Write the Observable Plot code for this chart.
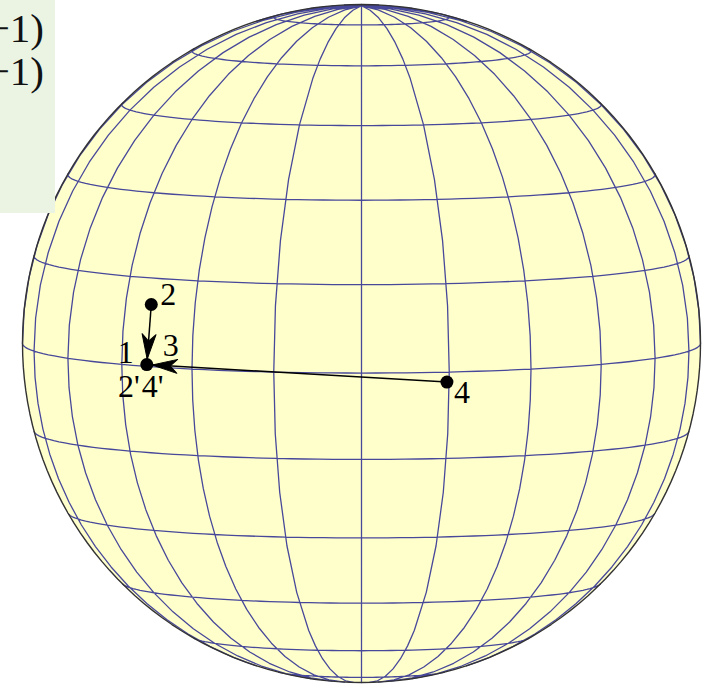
<!DOCTYPE html>
<html>
<head>
<meta charset="utf-8">
<script src="https://cdn.jsdelivr.net/npm/d3@7"></script>
<script src="https://cdn.jsdelivr.net/npm/@observablehq/plot@0.6"></script>
<style>
  body { margin: 0; background: #ffffff; }
  #wrap { position: relative; width: 702px; height: 684px; overflow: hidden; }
  #wrap svg { position: absolute; left: 0; top: 0; }
  #note {
    position: absolute; left: 0; top: 0; width: 55px; height: 213px;
    background: #ebf3e2; overflow: hidden;
    font-family: "Liberation Serif", serif; font-size: 41px; line-height: 1; color: #111;
  }
  #note div { position: absolute; right: 11px; white-space: nowrap; }
</style>
</head>
<body>
<div id="wrap"></div>
<script>
// Points on the sphere, in degrees
const pointNames = ["1", "2", "4"];
const pointLon = [-39.3, -39.1, 14.6];
const pointLat = [0.3, 10.5, -1.7];

// Moves drawn as arrows (from → to)
const arrowFrom = ["2", "4"];
const arrowTo = ["1", "1"];

// Labels and the point each one sits beside
const labelText = ["1", "2", "3", "2'", "4'", "4"];
const labelPoint = ["1", "2", "1", "1", "1", "4"];

// Lines of the note panel
const noteLines = ["−1)", "−1)"];

// Graticule spacing in degrees
const graticuleStep = [15, 15];

const lonOf = (name) => pointLon[pointNames.indexOf(name)];
const latOf = (name) => pointLat[pointNames.indexOf(name)];

// View: orthographic globe, tilted slightly toward the north pole
const projection = d3.geoOrthographic()
  .rotate([0, -5, 0])
  .scale(339)
  .translate([361, 343]);

const graticule = d3.geoGraticule()
  .extentMinor([[-180, -90 + 1e-6], [180, 90 - 1e-6]])
  .stepMinor(graticuleStep)
  .stepMajor([90, 360]);

// Direction of each arrowhead: from the target back toward the origin
const arrows = arrowFrom.map((from, i) => {
  const to = arrowTo[i];
  const a = projection([lonOf(to), latOf(to)]);
  const b = projection([lonOf(from), latOf(from)]);
  const angle = Math.atan2(b[0] - a[0], -(b[1] - a[1])) * 180 / Math.PI;
  return {from, to, angle};
});

// Filled stealth-style arrowhead; tip stops at the edge of the target dot
const dotRadius = 6.5;
const headShape = {
  draw(context) {
    const gap = dotRadius - 1, len = 25, half = 7;
    context.moveTo(0, -gap);
    context.lineTo(half, -gap - len);
    context.lineTo(0, -gap - len * 0.72);
    context.lineTo(-half, -gap - len);
    context.closePath();
  }
};

const labelPlacement = {
  "1":  {dx: -13, dy: -2, textAnchor: "end"},
  "2":  {dx: 9,   dy: 0,  textAnchor: "start"},
  "3":  {dx: 16,  dy: -9, textAnchor: "start"},
  "2'": {dx: -7,  dy: 32, textAnchor: "end"},
  "4'": {dx: -5,  dy: 32, textAnchor: "start"},
  "4":  {dx: 7,   dy: 21, textAnchor: "start"}
};

const labels = labelText.map((text, i) => ({text, at: labelPoint[i]}));
const points = pointNames.map((name) => ({name}));

const textMarks = labels.map((d) =>
  Plot.text([d], {
    x: (d) => lonOf(d.at),
    y: (d) => latOf(d.at),
    text: "text",
    ...labelPlacement[d.text],
    lineAnchor: "bottom",
    fontFamily: "Liberation Serif",
    fontSize: 32,
    fill: "#000"
  })
);

const chart = Plot.plot({
  width: 702,
  height: 684,
  projection,
  marks: [
    Plot.sphere({fill: "#ffffcc", stroke: "none"}),
    Plot.geo(graticule(), {stroke: "#48489a", strokeWidth: 1.3}),
    Plot.sphere({stroke: "#333333", strokeWidth: 1.4}),
    Plot.link(arrows, {
      x1: (d) => lonOf(d.from), y1: (d) => latOf(d.from),
      x2: (d) => lonOf(d.to),   y2: (d) => latOf(d.to),
      curve: "linear", stroke: "#000", strokeWidth: 1.5
    }),
    Plot.vector(arrows, {
      x: (d) => lonOf(d.to), y: (d) => latOf(d.to),
      rotate: (d) => d.angle,
      length: 25, anchor: "start", shape: headShape,
      fill: "#000", stroke: "#000", strokeWidth: 1
    }),
    Plot.dot(points, {
      x: (d) => lonOf(d.name), y: (d) => latOf(d.name),
      r: dotRadius, fill: "#000", stroke: "none"
    }),
    ...textMarks
  ]
});

const wrap = document.getElementById("wrap");
wrap.appendChild(chart);

const note = document.createElement("div");
note.id = "note";
noteLines.forEach((line, i) => {
  const el = document.createElement("div");
  el.textContent = line;
  el.style.top = (7.5 + i * 43) + "px";
  note.appendChild(el);
});
wrap.appendChild(note);
</script>
</body>
</html>
